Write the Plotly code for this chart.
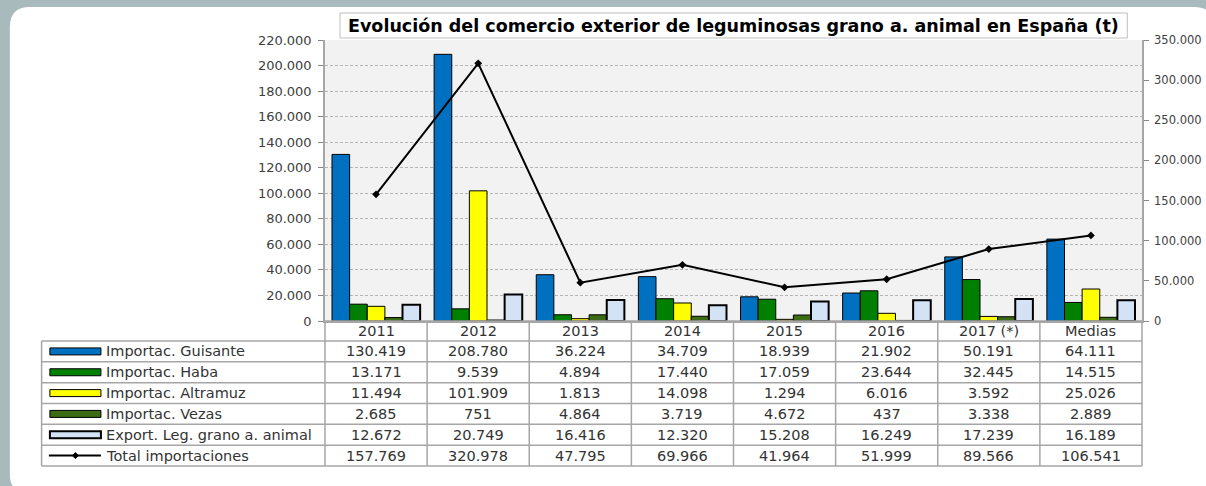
import plotly.graph_objects as go

categories = ["2011", "2012", "2013", "2014", "2015", "2016", "2017 (*)", "Medias"]
guisante = [130419, 208780, 36224, 34709, 18939, 21902, 50191, 64111]
haba = [13171, 9539, 4894, 17440, 17059, 23644, 32445, 14515]
altramuz = [11494, 101909, 1813, 14098, 1294, 6016, 3592, 25026]
vezas = [2685, 751, 4864, 3719, 4672, 437, 3338, 2889]
export_leg = [12672, 20749, 16416, 12320, 15208, 16249, 17239, 16189]
total_imp = [157769, 320978, 47795, 69966, 41964, 51999, 89566, 106541]

series_names = ["Importac. Guisante", "Importac. Haba", "Importac. Altramuz",
                "Importac. Vezas", "Export. Leg. grano a. animal", "Total importaciones"]
title_text = "Evolución del comercio exterior de leguminosas grano a. animal en España (t)"

W, H = 1206, 486
PL, PR, PT, PB = 325, 1141.7, 40, 321


def px(x):
    return (x - PL) / (PR - PL)


def py(y):
    return (PB - y) / (PB - PT)


def fmt(v):
    return f"{v:,}".replace(",", ".")


colors = ["#0070C0", "#008000", "#FFFF00", "#3B6B12", "#D3E3F5"]
bar_series = [guisante, haba, altramuz, vezas, export_leg]

fig = go.Figure()
for i, (vals, col) in enumerate(zip(bar_series, colors)):
    fig.add_trace(go.Bar(
        x=categories, y=vals, name=series_names[i],
        marker=dict(color=col, line=dict(color="#000000", width=2 if i == 4 else 1)),
        yaxis="y",
    ))
fig.add_trace(go.Scatter(
    x=categories, y=total_imp, name=series_names[5], mode="lines+markers",
    line=dict(color="#000000", width=2), marker=dict(symbol="diamond", size=6, color="#000000"),
    yaxis="y2",
))

shapes = []
# white rounded panel
x0, x1, y0, y1, r = 10, 1214, 7, 494, 20
path = (f"M {px(x0+r)},{py(y0)} L {px(x1-r)},{py(y0)} Q {px(x1)},{py(y0)} {px(x1)},{py(y0+r)} "
        f"L {px(x1)},{py(y1-r)} Q {px(x1)},{py(y1)} {px(x1-r)},{py(y1)} "
        f"L {px(x0+r)},{py(y1)} Q {px(x0)},{py(y1)} {px(x0)},{py(y1-r)} "
        f"L {px(x0)},{py(y0+r)} Q {px(x0)},{py(y0)} {px(x0+r)},{py(y0)} Z")
shapes.append(dict(type="path", path=path, xref="paper", yref="paper", layer="below",
                   fillcolor="#FFFFFF", line=dict(width=0)))
# plot background
shapes.append(dict(type="rect", xref="paper", yref="paper", x0=0, x1=1, y0=0, y1=1,
                   layer="below", fillcolor="#F2F2F2", line=dict(width=0)))
# title box
shapes.append(dict(type="rect", xref="paper", yref="paper", x0=px(340), x1=px(1127),
                   y0=py(38), y1=py(13), fillcolor="#FFFFFF", line=dict(color="#BFBFBF", width=1)))

# table grid
grid_col = "#A6A6A6"
row_edges = [321, 341] + [341 + k * (466 - 341) / 6 for k in range(1, 7)]
ncat = len(categories)
cw = (PR - PL) / ncat
for k in range(ncat + 1):
    xx = PL + k * cw
    shapes.append(dict(type="line", xref="paper", yref="paper", x0=px(xx), x1=px(xx),
                       y0=py(321), y1=py(466), line=dict(color=grid_col, width=1.5)))
shapes.append(dict(type="line", xref="paper", yref="paper", x0=px(41.7), x1=px(41.7),
                   y0=py(341), y1=py(466), line=dict(color=grid_col, width=1.5)))
for j, ye in enumerate(row_edges):
    xs = PL if j == 0 else 41.7
    shapes.append(dict(type="line", xref="paper", yref="paper", x0=px(xs), x1=px(PR),
                       y0=py(ye), y1=py(ye), line=dict(color=grid_col, width=1.5)))

annotations = [dict(text=f"<b>{title_text}</b>", xref="paper", yref="paper",
                    x=px(733.5), y=py(25.5), xanchor="center", yanchor="middle", showarrow=False,
                    font=dict(family="DejaVu Sans", size=17.5, color="#000000"))]

tfont = dict(family="DejaVu Sans", size=14.5, color="#333333")
for i, c in enumerate(categories):
    annotations.append(dict(text=c, xref="x", yref="paper", x=i, y=py(331),
                            showarrow=False, xanchor="center", yanchor="middle", font=tfont))

rows = [guisante, haba, altramuz, vezas, export_leg, total_imp]
for r_i, vals in enumerate(rows):
    yc = (row_edges[r_i + 1] + row_edges[r_i + 2]) / 2
    annotations.append(dict(text=series_names[r_i], xref="paper", yref="paper", x=px(104), y=py(yc),
                            showarrow=False, xanchor="left", yanchor="middle", font=tfont))
    for i, v in enumerate(vals):
        annotations.append(dict(text=fmt(v), xref="x", yref="paper", x=i, y=py(yc),
                                showarrow=False, xanchor="center", yanchor="middle", font=tfont))
    # legend key
    if r_i < 5:
        shapes.append(dict(type="rect", xref="paper", yref="paper", x0=px(50), x1=px(101),
                           y0=py(yc + 3.5), y1=py(yc - 3.5), fillcolor=colors[r_i],
                           line=dict(color="#000000", width=2 if r_i == 4 else 1)))
    else:
        shapes.append(dict(type="line", xref="paper", yref="paper", x0=px(49), x1=px(101),
                           y0=py(yc), y1=py(yc), line=dict(color="#000000", width=2)))
        d = 3
        shapes.append(dict(type="path", xref="paper", yref="paper",
                           path=f"M {px(75.5-d)},{py(yc)} L {px(75.5)},{py(yc-d)} L {px(75.5+d)},{py(yc)} L {px(75.5)},{py(yc+d)} Z",
                           fillcolor="#000000", line=dict(color="#000000", width=1)))

tickfont = dict(family="DejaVu Sans", size=13, color="#404040")
tickfont2 = dict(family="DejaVu Sans", size=11.5, color="#404040")
fig.update_layout(
    width=W, height=H, autosize=False,
    margin=dict(l=PL, r=W - PR, t=PT, b=H - PB),
    paper_bgcolor="#A9BABD", plot_bgcolor="#F2F2F2",
    separators=",.",
    barmode="group", bargap=0.137, bargroupgap=0,
    showlegend=False,
    xaxis=dict(showticklabels=False, ticks="", showgrid=False, showline=True,
               linecolor="#A6A6A6", linewidth=1.5, zeroline=False, automargin=False),
    yaxis=dict(range=[0, 220000], dtick=20000, tickformat=",d", ticks="outside", ticklen=5,
               tickcolor="#868686", showline=True, linecolor="#A6A6A6", linewidth=1.5,
               showgrid=True, gridcolor="#B4B4B4", griddash="3px,2px", gridwidth=1,
               zeroline=False, tickfont=tickfont, ticklabelstandoff=4, automargin=False),
    yaxis2=dict(range=[0, 350000], dtick=50000, tickformat=",d", ticks="outside", ticklen=5,
                tickcolor="#868686", showline=True, linecolor="#A6A6A6", linewidth=1.5,
                overlaying="y", side="right", showgrid=False, zeroline=False, tickfont=tickfont2,
                ticklabelstandoff=3, automargin=False),
    shapes=shapes, annotations=annotations,
)
fig.write_html(
    "out.html",
    config={"responsive": False, "displayModeBar": False},
    post_script="document.body.style.margin='0';document.body.style.overflow='hidden';",
)
